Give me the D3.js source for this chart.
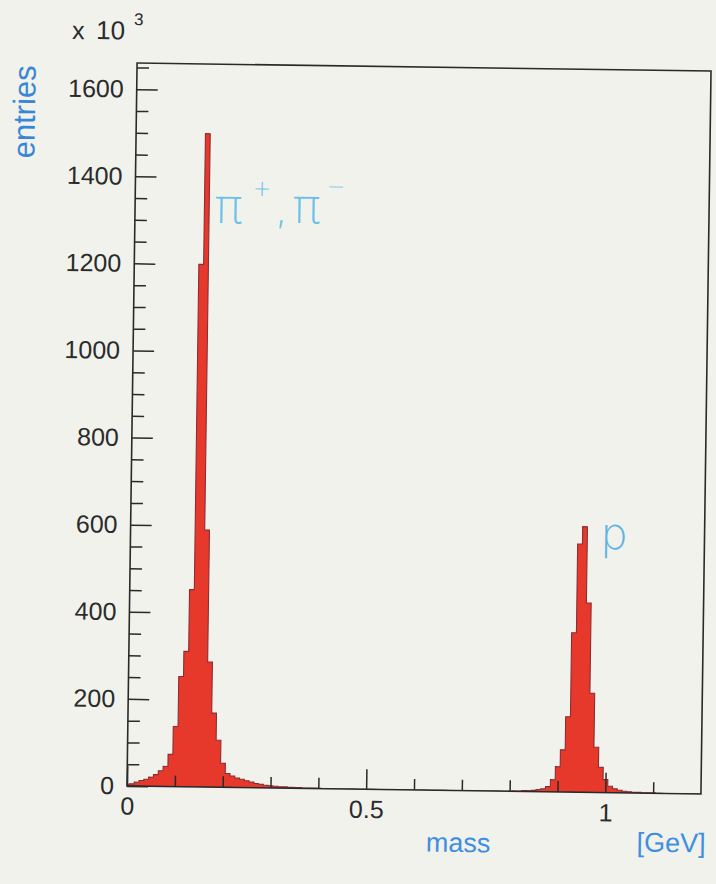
<!DOCTYPE html>
<html>
<head>
<meta charset="utf-8">
<script src="https://cdnjs.cloudflare.com/ajax/libs/d3/7.8.5/d3.min.js"></script>
<style>
  body { margin: 0; background: #f1f2ec; }
  svg { display: block; }
</style>
</head>
<body>
<div id="chart"></div>
<script>
// histogram: bins of 0.01 GeV centred on multiples of 0.01, entries in units of 10^3
const binWidth = 0.01;
const histStart = -0.005;
const pionStart = -0.005;
const pionCounts = [4, 5, 9, 13, 16, 21, 27, 36, 46, 74, 138, 253, 311, 453, 1200, 1500,
  590, 287, 170, 108, 55, 32, 26, 22, 19, 16, 13, 10, 8, 6, 5, 4, 3, 3, 2, 2, 2, 1, 1, 1, 1];
const protonStart = 0.805;
const protonCounts = [1, 1, 2, 2, 3, 5, 7, 12, 28, 58, 97, 173, 366, 570, 610,
  435, 228, 104, 58, 30, 15, 9, 6, 4, 3, 2, 2, 1, 1, 1];

const xDomain = [0, 1.2];
const yDomain = [0, 1660];
const xMajorTicks = [0, 0.5, 1];
const xMinorTicks = [0.1, 0.2, 0.3, 0.4, 0.6, 0.7, 0.8, 0.9, 1.1];
const yMajorTicks = [0, 200, 400, 600, 800, 1000, 1200, 1400, 1600];
const yMinorTicks = d3.range(50, 1660, 50).filter(d => d % 200 !== 0);

const width = 716;
const height = 884;
const margin = { left: 132, right: 10, top: 67, bottom: 94 };

// the reference is a slightly rotated photo of the plot
const angle = 0.8;
const cx = 419, cy = 429;
const rad = angle * Math.PI / 180;
function unrot(px, py) {
  const dx = px - cx, dy = py - cy;
  return [cx + dx * Math.cos(rad) + dy * Math.sin(rad), cy - dx * Math.sin(rad) + dy * Math.cos(rad)];
}

const svg = d3.select('#chart')
    .append('svg')
    .attr('width', width)
    .attr('height', height);

svg.append('rect')
    .attr('width', width)
    .attr('height', height)
    .attr('fill', '#f1f2ec');

const g = svg.append('g')
    .attr('transform', `rotate(${angle}, ${cx}, ${cy})`);

const x = d3.scaleLinear(xDomain, [margin.left, width - margin.right]);
const y = d3.scaleLinear(yDomain, [height - margin.bottom, margin.top]);

// build full bin list
const nBins = Math.round((xDomain[1] - histStart) / binWidth) + 1;
const counts = new Array(nBins).fill(0);
pionCounts.forEach((c, i) => { counts[Math.round((pionStart - histStart) / binWidth) + i] += c; });
protonCounts.forEach((c, i) => { counts[Math.round((protonStart - histStart) / binWidth) + i] += c; });
const bins = counts.map((c, i) => ({ lo: histStart + i * binWidth, v: c }));
bins.push({ lo: histStart + nBins * binWidth, v: counts[nBins - 1] });

g.append('clipPath')
    .attr('id', 'frame-clip')
  .append('rect')
    .attr('x', x(xDomain[0]))
    .attr('y', y(yDomain[1]))
    .attr('width', x(xDomain[1]) - x(xDomain[0]))
    .attr('height', y(0) - y(yDomain[1]));

const area = d3.area()
    .x(d => x(d.lo))
    .y0(y(0))
    .y1(d => y(d.v))
    .curve(d3.curveStepAfter);

g.append('path')
    .datum(bins)
    .attr('d', area)
    .attr('clip-path', 'url(#frame-clip)')
    .attr('fill', '#e6392b')
    .attr('stroke', '#8c2c33')
    .attr('stroke-width', 1.1);

// frame
g.append('rect')
    .attr('x', x(xDomain[0]))
    .attr('y', y(yDomain[1]))
    .attr('width', x(xDomain[1]) - x(xDomain[0]))
    .attr('height', y(0) - y(yDomain[1]))
    .attr('fill', 'none')
    .attr('stroke', '#2a2a2a')
    .attr('stroke-width', 1.6);

const labelFont = '"Liberation Sans", Arial, sans-serif';

// Y axis
const yMinor = g.append('g')
    .attr('transform', `translate(${x(0)},0)`)
    .call(d3.axisLeft(y).tickValues(yMinorTicks).tickSizeInner(-12).tickSizeOuter(0).tickFormat(''));
const yMajor = g.append('g')
    .attr('transform', `translate(${x(0)},0)`)
    .call(d3.axisLeft(y).tickValues(yMajorTicks).tickSizeInner(-21).tickSizeOuter(0).tickPadding(13).tickFormat(d3.format('d')));

// X axis
const xMinor = g.append('g')
    .attr('transform', `translate(0,${y(0)})`)
    .call(d3.axisBottom(x).tickValues(xMinorTicks).tickSizeInner(-11).tickSizeOuter(0).tickFormat(''));
const xMajor = g.append('g')
    .attr('transform', `translate(0,${y(0)})`)
    .call(d3.axisBottom(x).tickValues(xMajorTicks).tickSizeInner(-20).tickSizeOuter(0).tickPadding(11).tickFormat(d3.format('~g')));

[yMinor, yMajor, xMinor, xMajor].forEach(ax => {
  ax.select('.domain').remove();
  ax.selectAll('.tick line').attr('stroke', '#2a2a2a').attr('stroke-width', 1.5);
  ax.selectAll('.tick text')
      .attr('fill', '#2b2b2b')
      .attr('font-family', labelFont)
      .attr('font-size', 25);
});

// text helper, positions given in picture coordinates
function label(text, px, py, opts) {
  const [ux, uy] = unrot(px, py);
  return g.append('text')
      .attr('x', ux)
      .attr('y', uy)
      .attr('font-family', opts.family || labelFont)
      .attr('font-size', opts.size)
      .attr('font-weight', opts.weight || 'normal')
      .attr('fill', opts.color)
      .attr('text-anchor', opts.anchor || 'start')
      .text(text);
}

// exponent
label('x', 72, 39, { size: 25, color: '#2b2b2b' });
label('10', 96, 39, { size: 26, color: '#2b2b2b' });
label('3', 134, 25, { size: 17, color: '#2b2b2b' });

// y title
const [ex, ey] = unrot(35, 112);
g.append('text')
    .attr('transform', `translate(${ex},${ey}) rotate(-90)`)
    .attr('text-anchor', 'middle')
    .attr('font-family', labelFont)
    .attr('font-size', 31)
    .attr('fill', '#3a86d6')
    .text('entries');

// x title
label('mass', 458, 852, { size: 27, color: '#3f8ee0', anchor: 'middle' });
label('[GeV]', 671, 852, { size: 27, color: '#3f8ee0', anchor: 'middle' });

// peak labels
const greek = '"DejaVu Sans", sans-serif';
const light = '#6cc1ea';
label('π', 214, 223, { size: 48, weight: 200, color: light, family: greek });
label('+', 262, 196, { size: 22, weight: 200, color: light, family: greek, anchor: 'middle' });
label(',', 274, 223, { size: 46, weight: 200, color: light, family: greek });
label('π', 292, 223, { size: 48, weight: 200, color: light, family: greek });
label('−', 336, 194, { size: 22, weight: 200, color: light, family: greek, anchor: 'middle' });
label('p', 600, 549, { size: 44, weight: 200, color: '#5fb4e6', family: greek });
</script>
</body>
</html>
